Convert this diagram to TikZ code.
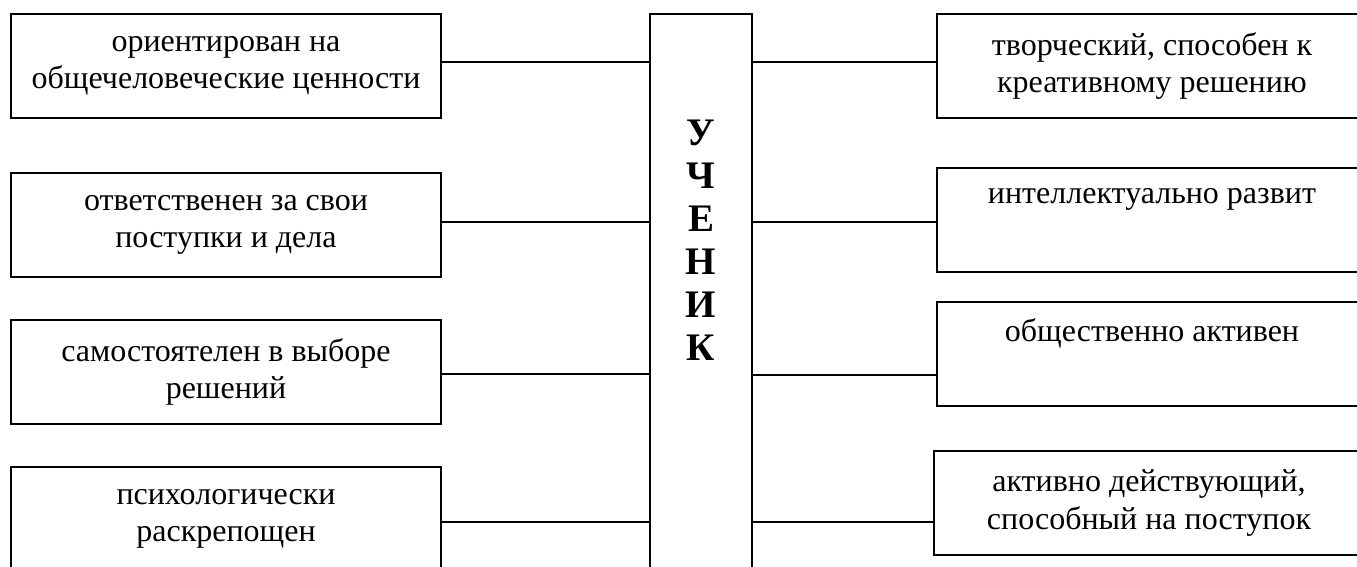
\documentclass[tikz,border=0pt]{standalone}
\usepackage{fontspec}
\setmainfont{Liberation Serif}
\begin{document}
\begin{tikzpicture}[x=1pt,y=-1pt,
  box/.style={draw=black,line width=1.6pt,fill=white,minimum width=430pt,minimum height=104pt,
    align=center,inner sep=0pt,font=\fontsize{32}{37.5}\selectfont},
  center box/.style={draw=black,line width=1.6pt,minimum width=102pt,minimum height=600pt,inner sep=0pt},
  word/.style={align=center,inner sep=0pt,font=\fontsize{39}{43}\selectfont\bfseries},
  link/.style={line width=1.2pt}]
\useasboundingbox (0,0) rectangle (1357,567);
\clip (0,0) rectangle (1357,567);
\fill[white] (0,0) rectangle (1357,567);
% centre column
\node[center box] (C) at (701,314) {};
\node[word] (W) at (701,240) {У\\Ч\\Е\\Н\\И\\К};
% left boxes
\node[box] (L1) at (226,66) {ориентирован на\\общечеловеческие ценности};
\node[box] (L2) at (226,225) {ответственен за свои\\поступки и дела};
\node[box] (L3) at (226,372) {самостоятелен в выборе\\решений};
\node[box] (L4) at (226,519) {психологически\\раскрепощен};
% right boxes
\node[box] (R1) at (1152,66) {творческий, способен к\\креативному решению};
\node[box] (R2) at (1152,220) {интеллектуально развит\\\strut};
\node[box] (R3) at (1152,354) {общественно активен\\\strut};
\node[box] (R4) at (1149,503) {активно действующий,\\способный на поступок};
% connector levels
\coordinate (y1) at (0,62);
\coordinate (y2) at (0,222);
\coordinate (y3) at (0,374);
\coordinate (y4) at (0,522);
\coordinate (z1) at (0,62);
\coordinate (z2) at (0,222);
\coordinate (z3) at (0,375);
\coordinate (z4) at (0,522);
\draw[link] (L1.east |- y1) -- (C.west |- y1);
\draw[link] (L2.east |- y2) -- (C.west |- y2);
\draw[link] (L3.east |- y3) -- (C.west |- y3);
\draw[link] (L4.east |- y4) -- (C.west |- y4);
\draw[link] (C.east |- z1) -- (R1.west |- z1);
\draw[link] (C.east |- z2) -- (R2.west |- z2);
\draw[link] (C.east |- z3) -- (R3.west |- z3);
\draw[link] (C.east |- z4) -- (R4.west |- z4);
\end{tikzpicture}
\end{document}
